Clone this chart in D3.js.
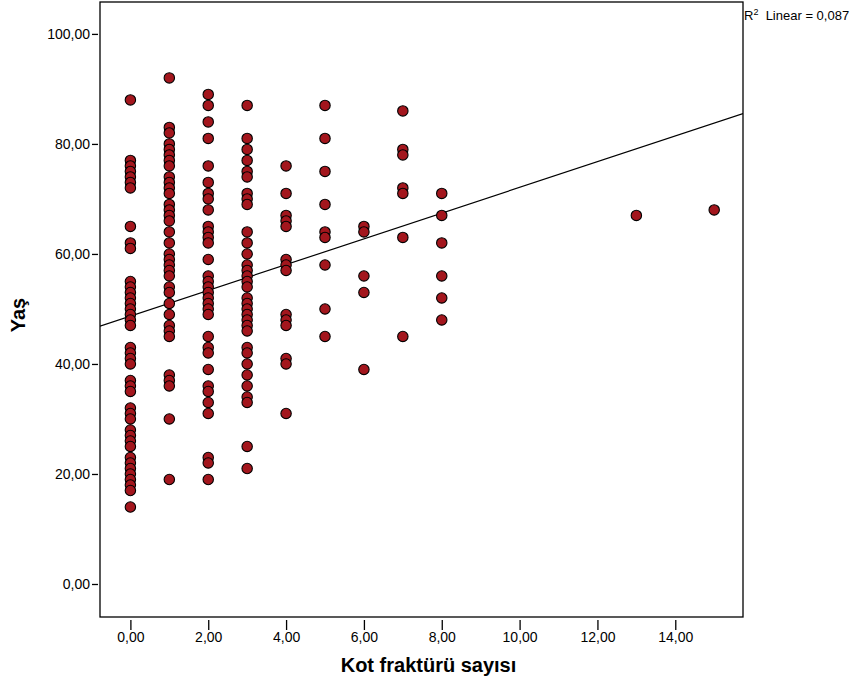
<!DOCTYPE html>
<html lang="tr">
<head>
<meta charset="UTF-8">
<title>Kot fraktürü sayısı - Yaş</title>
<style>
  body { margin: 0; background: #fff; }
  svg { display: block; font-family: "Liberation Sans", Arial, sans-serif; }
</style>
</head>
<body>
<svg id="chart" width="864" height="683"></svg>
<script src="https://cdnjs.cloudflare.com/ajax/libs/d3/7.8.5/d3.min.js"></script>
<script>
// ages (Yaş) per number of vertebral fractures (Kot fraktürü sayısı)
const groups = [0, 1, 2, 3, 4, 5, 6, 7, 8, 13, 15];
const ages = [
  [88, 77, 76, 75, 74, 73, 72, 65, 62, 61, 55, 54, 53, 52, 51, 50, 49, 48, 47, 43, 42, 41, 40, 37, 36, 35, 32, 31, 30, 28, 27, 26, 25, 23, 22, 21, 20, 19, 18, 17, 14],
  [92, 83, 82, 80, 79, 78, 77, 76, 74, 73, 72, 71, 69, 68, 67, 66, 64, 62, 60, 59, 58, 57, 56, 54, 53, 51, 49, 47, 46, 45, 38, 37, 36, 30, 19],
  [89, 87, 84, 81, 76, 73, 71, 70, 68, 65, 64, 63, 62, 59, 56, 55, 54, 53, 52, 51, 50, 49, 45, 43, 42, 39, 36, 35, 33, 31, 23, 22, 19],
  [87, 81, 79, 77, 75, 74, 71, 70, 69, 64, 62, 60, 58, 57, 56, 55, 54, 52, 51, 50, 49, 48, 47, 46, 43, 42, 40, 38, 36, 34, 33, 25, 21],
  [76, 71, 67, 66, 65, 59, 58, 57, 49, 48, 47, 41, 40, 31],
  [87, 81, 75, 69, 64, 63, 58, 50, 45],
  [65, 64, 56, 53, 39],
  [86, 79, 78, 72, 71, 63, 45],
  [71, 67, 62, 56, 52, 48],
  [67],
  [68]
];
const xTicks = [0, 2, 4, 6, 8, 10, 12, 14];
const yTicks = [0, 20, 40, 60, 80, 100];
// fit line
const fitIntercept = 48.7;
const fitSlope = 2.34;
const rSquared = 0.087;

const points = groups.flatMap((g, i) => ages[i].map(a => ({ x: g, y: a })));

const svg = d3.select('#chart');
const frame = { left: 100, right: 743, top: 2, bottom: 617 };

const trLocale = d3.formatLocale({ decimal: ',', thousands: '.', grouping: [3], currency: ['', ''] });
const fmt = trLocale.format('.2f');
const fmt3 = trLocale.format('.3f');

const x = d3.scaleLinear().domain([-0.781, 15.74]).range([frame.left, frame.right]);
const y = d3.scaleLinear().domain([-6, 105.8]).range([frame.bottom, frame.top]);

// plot frame
svg.append('rect')
  .attr('x', frame.left).attr('y', frame.top)
  .attr('width', frame.right - frame.left).attr('height', frame.bottom - frame.top)
  .attr('fill', 'none').attr('stroke', '#000').attr('stroke-width', 1.3);

// axes
const xAxis = svg.append('g')
  .attr('transform', `translate(0, ${frame.bottom + 3})`)
  .call(d3.axisBottom(x).tickValues(xTicks).tickFormat(fmt).tickSizeInner(10).tickSizeOuter(0));
xAxis.select('.domain').remove();
xAxis.selectAll('text').attr('font-size', 14).attr('fill', '#000').attr('y', 12).attr('dy', '0.71em');
xAxis.selectAll('line').attr('stroke-width', 1.3);

const yAxis = svg.append('g')
  .attr('transform', `translate(${frame.left - 2}, 0)`)
  .call(d3.axisLeft(y).tickValues(yTicks).tickFormat(fmt).tickSizeInner(6).tickSizeOuter(0));
yAxis.select('.domain').remove();
yAxis.selectAll('text').attr('font-size', 14).attr('fill', '#000').attr('x', -8);
yAxis.selectAll('line').attr('stroke-width', 1.3);

// fit line
svg.append('clipPath').attr('id', 'clip')
  .append('rect')
  .attr('x', frame.left).attr('y', frame.top)
  .attr('width', frame.right - frame.left).attr('height', frame.bottom - frame.top);

const xd = x.domain();
svg.append('line')
  .attr('clip-path', 'url(#clip)')
  .attr('x1', x(xd[0])).attr('y1', y(fitIntercept + fitSlope * xd[0]))
  .attr('x2', x(xd[1])).attr('y2', y(fitIntercept + fitSlope * xd[1]))
  .attr('stroke', '#000').attr('stroke-width', 1.2);

// points
svg.append('g')
  .selectAll('circle')
  .data(points)
  .join('circle')
  .attr('cx', d => x(d.x))
  .attr('cy', d => y(d.y))
  .attr('r', 5.2)
  .attr('fill', '#a3161d')
  .attr('stroke', '#000')
  .attr('stroke-width', 1.1);

// axis titles
svg.append('text')
  .attr('x', (frame.left + frame.right) / 2 + 7)
  .attr('y', 672)
  .attr('text-anchor', 'middle')
  .attr('font-size', 20)
  .attr('font-weight', 'bold')
  .text('Kot fraktürü sayısı');

svg.append('text')
  .attr('transform', `translate(25, 315) rotate(-90)`)
  .attr('text-anchor', 'middle')
  .attr('font-size', 20)
  .attr('font-weight', 'bold')
  .text('Yaş');

// R² annotation
const r2 = svg.append('text')
  .attr('x', 744)
  .attr('y', 20)
  .attr('font-size', 13)
  .attr('fill', '#000');
r2.append('tspan').text('R');
r2.append('tspan').attr('font-size', 9).attr('dy', -5).text('2');
r2.append('tspan').attr('dy', 5).text(`  Linear = ${fmt3(rSquared)}`).attr('xml:space', 'preserve');
</script>
</body>
</html>
